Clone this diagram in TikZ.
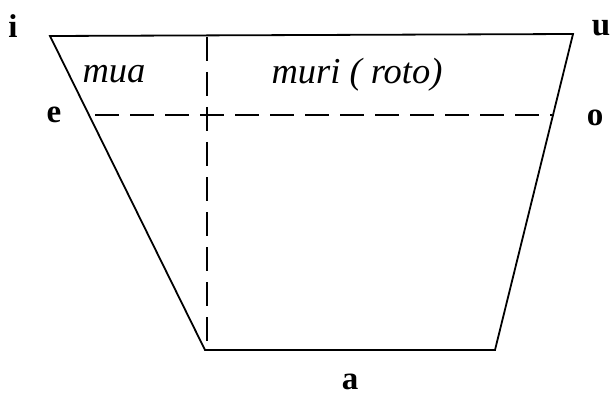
\documentclass[tikz,border=0pt]{standalone}
\usepackage{fontspec}
\setmainfont{Liberation Serif}
\begin{document}
\begin{tikzpicture}[x=1pt,y=-1pt,
  edge/.style={line width=1.8pt,line cap=round},
  dashline/.style={line width=1.5pt,dash pattern=on 24pt off 11pt},
  vowel/.style={font=\fontsize{33}{33}\selectfont\bfseries,inner sep=0pt},
  word/.style={font=\fontsize{36.5}{36.5}\selectfont\itshape,inner sep=0pt}]
\useasboundingbox (0,0) rectangle (612,398);
\coordinate (TL) at (50,36);
\coordinate (TR) at (573,34);
\coordinate (BL) at (205,350);
\coordinate (BR) at (495,350);
\coordinate (EL) at (95,115);
\coordinate (OR) at (552,115);
\coordinate (VT) at (207,37);
\coordinate (VB) at (207,350);
\draw[edge] (TL) -- (TR) -- (BR) -- (BL) -- cycle;
\draw[dashline] (EL) -- (OR);
\draw[dashline] (VT) -- (VB);
\node[vowel] (i) at (13,26) {i};
\node[vowel] (u) at (601,28) {u};
\node[vowel] (e) at (54,115) {e};
\node[vowel] (o) at (595,118) {o};
\node[vowel,anchor=base] (a) at (350,389) {a};
\node[word,anchor=base] (mua) at (114,83) {mua};
\node[word,anchor=base] (muri) at (357,84) {muri ( roto)};
\end{tikzpicture}
\end{document}
